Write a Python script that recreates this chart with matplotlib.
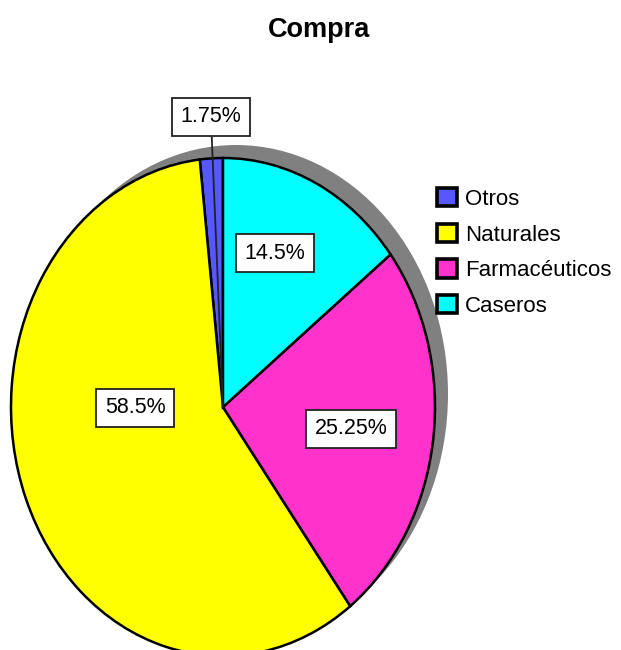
''' Compra pie chart '''

import matplotlib
matplotlib.use('Agg')
import matplotlib.pyplot as plt
from matplotlib.patches import Ellipse

# legend order == drawing order (counter-clockwise from 12 o'clock)
categories = ['Otros', 'Naturales', 'Farmacéuticos', 'Caseros']
percentages = [1.75, 58.5, 25.25, 14.5]
pct_labels = ['1.75%', '58.5%', '25.25%', '14.5%']
colors = ['#5757FF', '#FFFF00', '#FF33CC', '#00FFFF']

# label box centres, in pie radius units
label_xy = [(-0.057, 1.165), (-0.415, -0.004), (0.604, -0.088), (0.245, 0.618)]

FONT = ['Liberation Sans', 'DejaVu Sans']

W, H = 621, 650
cx, cy = 223, 407       # pie centre, pixels from top-left
rx, ry = 212, 249       # ellipse radii, pixels

fig = plt.figure(figsize=(W / 100, H / 100), dpi=100)
ax = fig.add_axes([0, 0, 1, 1])

# gray drop shadow up and to the right
shadow = Ellipse((13 / rx, 13 / ry), 2, 2, facecolor='#808080', edgecolor='none', zorder=0)
ax.add_patch(shadow)

wedges, _ = ax.pie(percentages, colors=colors, startangle=90, counterclock=True,
                   wedgeprops=dict(edgecolor='black', linewidth=1.8))
for w in wedges:
    w.set_zorder(1)

box = dict(boxstyle='square,pad=0.4', facecolor='white', edgecolor='#222222', linewidth=1.3)
for i, txt in enumerate(pct_labels):
    if i == 0:
        # small slice: label outside, leader line running to the pie centre
        ax.annotate(txt, xy=(0, 0), xytext=label_xy[i],
                    ha='center', va='center', fontsize=15.5, family=FONT, bbox=box,
                    arrowprops=dict(arrowstyle='-', color='#222222', lw=1.3,
                                    shrinkA=0, shrinkB=0), zorder=5)
    else:
        ax.text(label_xy[i][0], label_xy[i][1], txt, ha='center', va='center',
                fontsize=15.5, family=FONT, bbox=box, zorder=5)

ax.set_aspect('auto')
ax.set_xlim(-cx / rx, (W - cx) / rx)
ax.set_ylim(-(H - cy) / ry, cy / ry)
ax.axis('off')

fig.text(319 / W, 1 - 37 / H, 'Compra', ha='center', va='baseline',
         fontsize=19.5, fontweight='bold', family=FONT)

leg = fig.legend(wedges, categories, loc='upper left', bbox_to_anchor=(437 / W, 1 - 188 / H),
                 frameon=False, borderpad=0, borderaxespad=0,
                 prop=dict(family=FONT, size=16),
                 handlelength=0.9, handleheight=0.9, handletextpad=0.35, labelspacing=0.62)
for h in leg.legend_handles:
    h.set_linewidth(2.6)
    h.set_edgecolor('black')

fig.savefig('out.png', dpi=100)
